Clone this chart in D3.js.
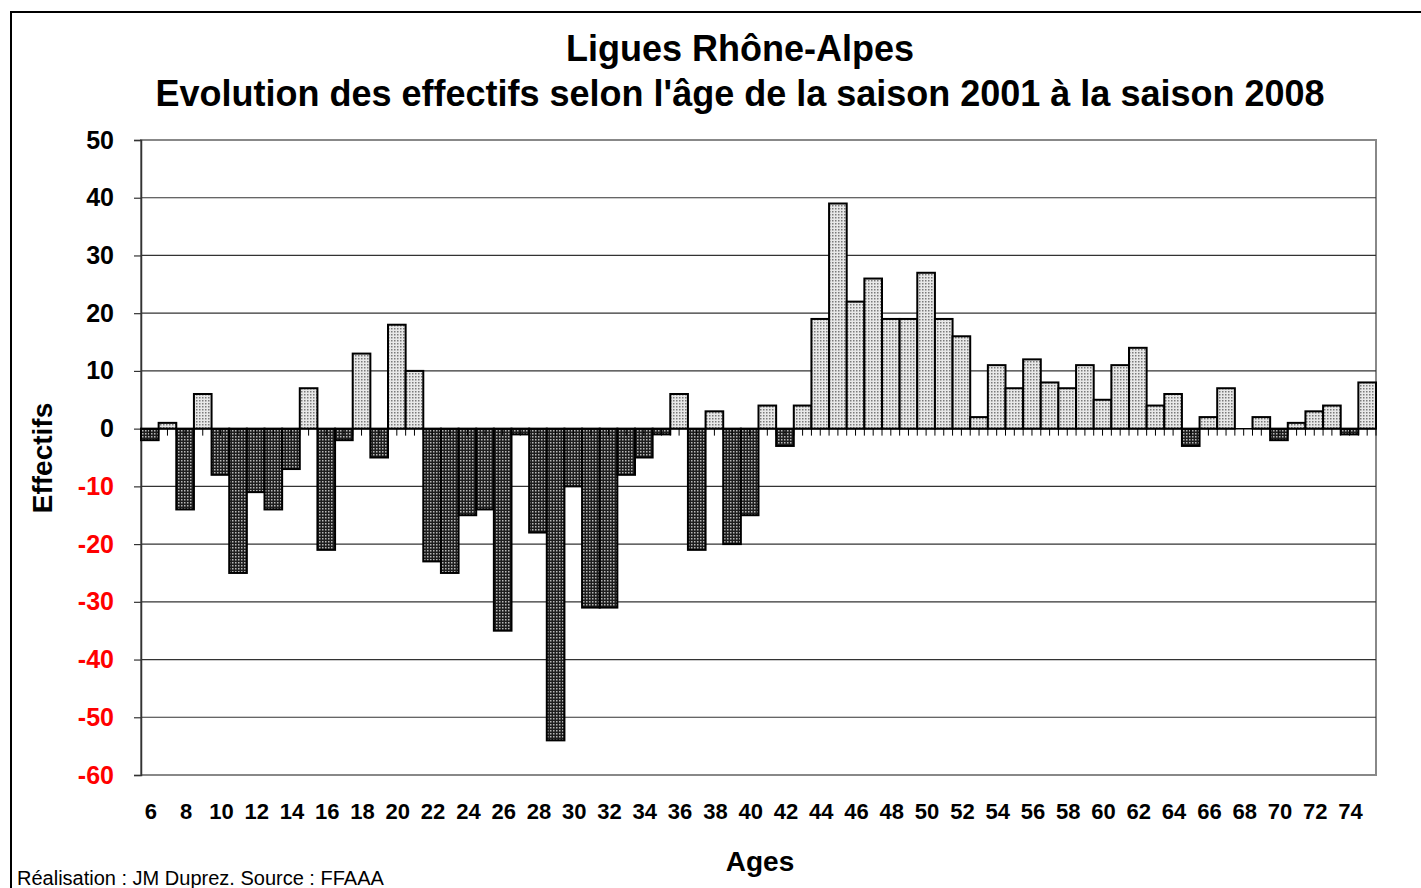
<!DOCTYPE html>
<html>
<head>
<meta charset="utf-8">
<script src="https://cdn.jsdelivr.net/npm/d3@7"></script>
<style>
  body { margin: 0; background: #fff; }
  svg text { font-family: "Liberation Sans", Arial, sans-serif; }
</style>
</head>
<body>
<div id="chart"></div>
<script>
// ages (categories) and change in membership 2001 -> 2008
const ages = d3.range(6, 76);
const values = [
  -2, 1, -14, 6, -8, -25, -11, -14, -7, 7,
  -21, -2, 13, -5, 18, 10, -23, -25, -15, -14,
  -35, -1, -18, -54, -10, -31, -31, -8, -5, -1,
  6, -21, 3, -20, -15, 4, -3, 4, 19, 39,
  22, 26, 19, 19, 27, 19, 16, 2, 11, 7,
  12, 8, 7, 11, 5, 11, 14, 4, 6, -3,
  2, 7, 0, 2, -2, 1, 3, 4, -1, 8
];
const yTicks = [50, 40, 30, 20, 10, 0, -10, -20, -30, -40, -50, -60];
const xLabels = ages.filter(a => a % 2 === 0);

const titleLines = ["Ligues Rhône-Alpes",
                    "Evolution des effectifs selon l'âge de la saison 2001 à la saison 2008"];

const W = 1421, H = 888;
const plot = {left: 141, right: 1376, top: 140, bottom: 775};

const svg = d3.select("#chart")
              .append("svg")
              .attr("width", W)
              .attr("height", H);

// dotted fills
const defs = svg.append("defs");
const light = defs.append("pattern")
    .attr("id", "light").attr("width", 3).attr("height", 3)
    .attr("patternUnits", "userSpaceOnUse");
light.append("rect").attr("width", 3).attr("height", 3).attr("fill", "#e8e8e8");
light.append("rect").attr("x", 1).attr("y", 1).attr("width", 1.5).attr("height", 1.5).attr("fill", "#7a7a7a");

const dark = defs.append("pattern")
    .attr("id", "dark").attr("width", 3).attr("height", 3)
    .attr("patternUnits", "userSpaceOnUse");
dark.append("rect").attr("width", 3).attr("height", 3).attr("fill", "#1e1e1e");
dark.append("rect").attr("x", 1).attr("y", 1).attr("width", 1.5).attr("height", 1.5).attr("fill", "#b8b8b8");

// outer frame (left and top only visible)
svg.append("path")
   .attr("d", `M11,${H} L11,12 L${W},12`)
   .attr("fill", "none")
   .attr("stroke", "#000")
   .attr("stroke-width", 2);

const x = d3.scaleBand()
            .domain(ages)
            .range([plot.left, plot.right])
            .padding(0);

const y = d3.scaleLinear()
            .domain([-60, 50])
            .range([plot.bottom, plot.top]);

// plot frame
svg.append("rect")
   .attr("x", plot.left).attr("y", plot.top)
   .attr("width", plot.right - plot.left)
   .attr("height", plot.bottom - plot.top)
   .attr("fill", "none")
   .attr("stroke", "#888")
   .attr("stroke-width", 2);

// gridlines
svg.append("g")
   .selectAll("line.grid")
   .data(yTicks.filter(t => t !== 50 && t !== -60 && t !== 0))
   .enter()
   .append("line")
   .attr("class", "grid")
   .attr("x1", plot.left).attr("x2", plot.right)
   .attr("y1", d => y(d)).attr("y2", d => y(d))
   .attr("stroke", "#333")
   .attr("stroke-width", 1.2);

// y axis
const yAxis = svg.append("g")
   .attr("transform", `translate(${plot.left},0)`)
   .call(d3.axisLeft(y).tickValues(yTicks).tickSize(7).tickPadding(20).tickFormat(d => String(d)));
yAxis.select(".domain").attr("stroke", "#333").attr("stroke-width", 1.5);
yAxis.selectAll(".tick line").attr("stroke", "#333").attr("stroke-width", 1.2);
yAxis.selectAll(".tick text")
     .attr("font-size", 25)
     .attr("font-weight", "bold")
     .attr("fill", d => d < 0 ? "#ff0000" : "#000")
     .attr("font-family", "Liberation Sans, Arial, sans-serif");

// bars
svg.append("g")
   .selectAll("rect.bar")
   .data(ages.map((a, i) => ({age: a, value: values[i]})).filter(d => d.value !== 0))
   .enter()
   .append("rect")
   .attr("class", "bar")
   .attr("x", d => x(d.age))
   .attr("width", x.bandwidth())
   .attr("y", d => y(Math.max(0, d.value)))
   .attr("height", d => Math.abs(y(d.value) - y(0)))
   .attr("fill", d => d.value > 0 ? "url(#light)" : "url(#dark)")
   .attr("stroke", "#000")
   .attr("stroke-width", 2);

// category axis on the zero line
const halfTicks = d3.range(0, ages.length * 2 + 1).map(k => plot.left + k * x.bandwidth() / 2);
svg.append("g")
   .selectAll("line.xtick")
   .data(halfTicks)
   .enter()
   .append("line")
   .attr("class", "xtick")
   .attr("x1", d => d).attr("x2", d => d)
   .attr("y1", y(0)).attr("y2", y(0) + 7)
   .attr("stroke", "#000")
   .attr("stroke-width", 1);
svg.append("line")
   .attr("x1", plot.left).attr("x2", plot.right)
   .attr("y1", y(0)).attr("y2", y(0))
   .attr("stroke", "#000")
   .attr("stroke-width", 1.5);

// x labels
svg.append("g")
   .selectAll("text.xlab")
   .data(xLabels)
   .enter()
   .append("text")
   .attr("class", "xlab")
   .attr("x", d => x(d) + x.bandwidth() / 2 + 1)
   .attr("y", 819)
   .attr("text-anchor", "middle")
   .attr("font-size", 22)
   .attr("font-weight", "bold")
   .text(d => d);

// titles
svg.append("g")
   .selectAll("text.title")
   .data(titleLines)
   .enter()
   .append("text")
   .attr("class", "title")
   .attr("x", 740)
   .attr("y", (d, i) => 61 + i * 45)
   .attr("text-anchor", "middle")
   .attr("font-size", 36)
   .attr("font-weight", "bold")
   .text(d => d);

svg.append("text")
   .attr("x", 760).attr("y", 871)
   .attr("text-anchor", "middle")
   .attr("font-size", 28)
   .attr("font-weight", "bold")
   .text("Ages");

svg.append("text")
   .attr("transform", "translate(52,458) rotate(-90)")
   .attr("text-anchor", "middle")
   .attr("font-size", 28)
   .attr("font-weight", "bold")
   .text("Effectifs");

svg.append("text")
   .attr("x", 17).attr("y", 885)
   .attr("font-size", 20)
   .text("Réalisation : JM Duprez. Source : FFAAA");
</script>
</body>
</html>
